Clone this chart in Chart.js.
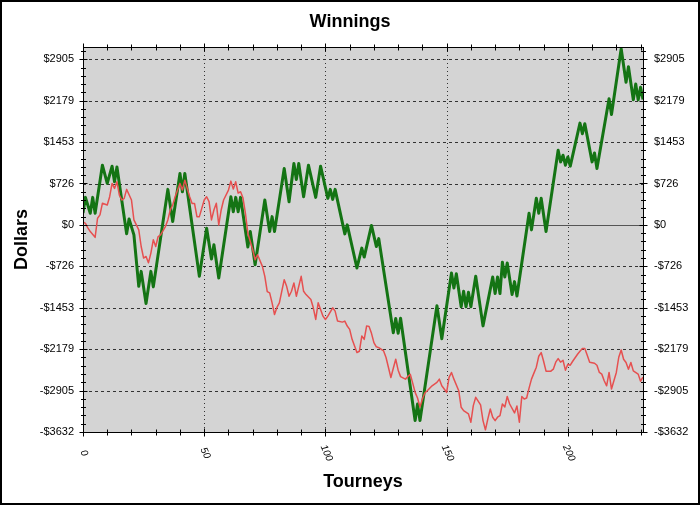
<!DOCTYPE html>
<html>
<head>
<meta charset="utf-8">
<script src="https://cdn.jsdelivr.net/npm/chart.js@4.4.0/dist/chart.umd.min.js"></script>
<style>
  body { margin: 0; background: #fff; }
  #wrap { width: 700px; height: 505px; position: relative; }
</style>
</head>
<body>
<div id="wrap"><canvas id="winChart"></canvas></div>
<script>
var yTickValues = [-3632, -2905, -2179, -1453, -726, 0, 726, 1453, 2179, 2905];
var xTickValues = [0, 50, 100, 150, 200];

// green line: turning points
var greenTourneys = [0, 1, 3, 4, 5, 8, 10, 12, 13, 14, 18, 19, 21, 23, 24, 26, 28, 29, 35, 37,
  40, 41, 42, 48, 51, 53, 54, 56, 61, 62, 63, 64, 65, 68, 69, 71, 75, 77, 78, 79,
  83, 85, 87, 88, 89, 91, 93, 96, 98, 101, 102, 103, 104, 108, 109, 113, 115, 116, 119, 121,
  122, 128, 129, 130, 131, 137, 138, 139, 146, 148, 152, 153, 154, 156, 157, 158, 159, 160, 162, 165,
  169, 170, 171, 172, 173, 174, 175, 177, 178, 179, 184, 185, 187, 188, 189, 191, 196, 197, 198, 199,
  200, 201, 205, 206, 207, 210, 211, 212, 217, 218, 222, 224, 225, 227, 228, 229, 230, 231];
var greenDollars = [209, 483, 204, 483, 204, 1047, 728, 1030, 756, 1017, -157, 105, -175, -1077, -815, -1379, -815, -1087, 623, 58,
  902, 581, 902, -902, -58, -599, -349, -930, 494, 232, 483, 232, 483, -389, -117, -698, 436, -117, 145, -117,
  989, 407, 1077, 797, 1077, 494, 1047, 483, 1030, 466, 623, 448, 623, -157, 0, -756, -407, -564, -9, -379,
  -241, -1890, -1640, -1902, -1637, -3432, -3141, -3432, -1419, -1998, -843, -1105, -855, -1436, -1164, -1436, -1181, -1436, -899, -1771,
  -913, -1204, -913, -1204, -654, -913, -668, -1222, -995, -1248, 204, -87, 466, 204, 466, -117, 1309, 1105, 1222, 1047,
  1192, 1030, 1785, 1600, 1775, 1105, 1262, 989, 2211, 1937, 3089, 2501, 2775, 2193, 2473, 2193, 2413, 2199];

// red line
var redTourneys = [0, 1, 2, 3, 5, 6, 7, 8, 10, 11, 12, 13, 14, 15, 16, 17, 18, 20, 21, 23,
  24, 25, 26, 27, 28, 29, 30, 31, 32, 34, 35, 36, 37, 38, 40, 41, 42, 43, 44, 45,
  46, 47, 48, 50, 51, 52, 53, 54, 55, 56, 57, 58, 60, 61, 62, 63, 64, 65, 66, 67,
  68, 70, 71, 72, 74, 75, 76, 77, 78, 79, 80, 81, 83, 84, 85, 86, 87, 88, 90, 91,
  92, 94, 95, 96, 97, 98, 99, 100, 101, 103, 104, 105, 107, 108, 109, 110, 111, 113, 114, 115,
  116, 117, 118, 119, 120, 121, 122, 124, 125, 126, 127, 128, 129, 130, 131, 133, 134, 135, 136, 137,
  138, 139, 140, 141, 142, 144, 145, 146, 147, 148, 149, 150, 151, 152, 153, 155, 156, 157, 159, 160,
  161, 162, 164, 165, 166, 167, 168, 169, 170, 171, 172, 173, 174, 175, 176, 178, 179, 180, 181, 182,
  183, 184, 185, 186, 187, 188, 189, 190, 191, 193, 194, 195, 196, 197, 198, 199, 200, 201, 202, 204,
  205, 206, 207, 208, 209, 211, 212, 213, 214, 215, 216, 217, 218, 220, 221, 222, 223, 224, 225, 226,
  227, 229, 230, 231];
var redDollars = [52, 26, -52, -117, -218, 117, 175, 379, 349, 494, 728, 640, 756, 523, 436, 466, 623, 436, 87, -87,
  -379, -581, -553, -663, -494, -262, -379, -204, -175, -30, 87, 262, 349, 494, 728, 611, 785, 640, 494, 377,
  377, 145, 145, 436, 494, 407, 87, 262, 379, 0, 262, 436, 611, 768, 628, 756, 558, 581, 471, 204,
  -145, -436, -611, -524, -728, -902, -1169, -1192, -1367, -1571, -1448, -1366, -960, -1077, -1251, -1164, -1017, -1251, -902, -1164,
  -1222, -1309, -1454, -1658, -1366, -1484, -1600, -1658, -1600, -1454, -1513, -1687, -1705, -1687, -1774, -1832, -2007, -2239, -2216, -1949,
  -2007, -1771, -1780, -1902, -2064, -2138, -2152, -2211, -2326, -2501, -2676, -2513, -2356, -2548, -2661, -2705, -2661, -2618, -2775, -2937,
  -3036, -3193, -3054, -2949, -2909, -2822, -2792, -2762, -2705, -2822, -2879, -2937, -2675, -2588, -2705, -2909, -3199, -3258, -3316, -3461,
  -3170, -3024, -3158, -3432, -3595, -3403, -3228, -3373, -3432, -3373, -3345, -3141, -3193, -3010, -3141, -3298, -3176, -3460, -3010, -3054,
  -3036, -2862, -2705, -2600, -2495, -2303, -2239, -2391, -2565, -2565, -2530, -2408, -2344, -2408, -2373, -2548, -2443, -2461, -2391, -2269,
  -2216, -2169, -2169, -2286, -2408, -2426, -2461, -2588, -2617, -2734, -2822, -2588, -2879, -2588, -2321, -2193, -2356, -2413, -2530, -2413,
  -2560, -2617, -2740, -2670];

const Y_MIN = -3632;
const Y_MAX = 3120;
const FONT = '"Liberation Sans", Arial, sans-serif';

function toPoints(xs, ys) {
  return xs.map((x, i) => ({ x: x, y: ys[i] }));
}

function dollarLabel(v) {
  return v < 0 ? '-$' + Math.abs(v) : '$' + v;
}

const chartDecor = {
  id: 'chartDecor',
  beforeDraw: function (chart) {
    const ctx = chart.ctx;
    const a = chart.chartArea;
    const xs = chart.scales.x;
    const ys = chart.scales.y;
    ctx.save();
    ctx.fillStyle = '#ffffff';
    ctx.fillRect(0, 0, chart.width, chart.height);
    ctx.fillStyle = '#d4d4d4';
    ctx.fillRect(a.left, a.top, a.right - a.left, a.bottom - a.top);

    ctx.strokeStyle = '#333';
    ctx.lineWidth = 1;
    ctx.setLineDash([3, 3]);
    yTickValues.forEach(v => {
      if (v === 0 || v === Y_MIN) return;
      const y = Math.round(ys.getPixelForValue(v)) + 0.5;
      ctx.beginPath();
      ctx.moveTo(a.left, y);
      ctx.lineTo(a.right, y);
      ctx.stroke();
    });
    ctx.setLineDash([1, 3]);
    xTickValues.forEach(v => {
      if (v === 0) return;
      const x = Math.round(xs.getPixelForValue(v)) + 0.5;
      ctx.beginPath();
      ctx.moveTo(x, a.top);
      ctx.lineTo(x, a.bottom);
      ctx.stroke();
    });
    ctx.setLineDash([]);
    ctx.strokeStyle = '#555';
    const y0 = Math.round(ys.getPixelForValue(0)) + 0.5;
    ctx.beginPath();
    ctx.moveTo(a.left, y0);
    ctx.lineTo(a.right, y0);
    ctx.stroke();
    ctx.restore();
  },
  afterDraw: function (chart) {
    const ctx = chart.ctx;
    const a = chart.chartArea;
    const xs = chart.scales.x;
    const ys = chart.scales.y;
    ctx.save();
    ctx.strokeStyle = '#000';
    ctx.lineWidth = 1;
    const L = Math.round(a.left) + 0.5, R = Math.round(a.right) + 0.5;
    const T = Math.round(a.top) + 0.5, B = Math.round(a.bottom) + 0.5;
    ctx.strokeRect(L, T, R - L, B - T);

    // y ticks on both sides
    const step = 726.4 / 5;
    for (let i = 0; ; i++) {
      const v = Y_MIN + i * step;
      if (v > Y_MAX) break;
      const y = Math.round(ys.getPixelForValue(v)) + 0.5;
      const len = (i % 5 === 0) ? 4 : 2.5;
      ctx.beginPath();
      ctx.moveTo(L - len, y); ctx.lineTo(L + len, y);
      ctx.moveTo(R - len, y); ctx.lineTo(R + len, y);
      ctx.stroke();
    }
    // x ticks top and bottom
    for (let v = 0; v <= 231; v += 10) {
      const x = Math.round(xs.getPixelForValue(v)) + 0.5;
      const len = (v % 50 === 0) ? 4 : 3;
      ctx.beginPath();
      ctx.moveTo(x, B - len); ctx.lineTo(x, B + len);
      ctx.moveTo(x, T - len); ctx.lineTo(x, T + len);
      ctx.stroke();
    }

    // rotated x labels
    ctx.fillStyle = '#000';
    ctx.font = 'italic 10px ' + FONT;
    ctx.textAlign = 'center';
    ctx.textBaseline = 'middle';
    xTickValues.forEach(v => {
      const x = xs.getPixelForValue(v);
      ctx.save();
      ctx.translate(x + 1, 453);
      ctx.rotate(65 * Math.PI / 180);
      ctx.fillText(String(v), 0, 0);
      ctx.restore();
    });

    // titles
    ctx.font = 'bold 18px ' + FONT;
    ctx.fillText('Winnings', 350, 22);
    ctx.fillText('Tourneys', (a.left + a.right) / 2, 482);
    ctx.save();
    ctx.translate(22, (a.top + a.bottom) / 2);
    ctx.rotate(-Math.PI / 2);
    ctx.fillText('Dollars', 0, 0);
    ctx.restore();

    // outer frame
    ctx.lineWidth = 2;
    ctx.strokeRect(1, 1, chart.width - 2, chart.height - 2);
    ctx.restore();
  }
};

function yAxis(position, width, pad) {
  return {
    type: 'linear',
    position: position,
    min: Y_MIN,
    max: Y_MAX,
    grid: { display: false },
    border: { display: false },
    afterBuildTicks: function (scale) {
      scale.ticks = yTickValues.map(v => ({ value: v }));
    },
    afterFit: function (scale) { scale.width = width; },
    ticks: {
      autoSkip: false,
      padding: pad,
      color: '#000',
      font: { family: FONT, size: 11 },
      callback: function (v) { return dollarLabel(v); }
    }
  };
}

const ctx = document.getElementById('winChart').getContext('2d');
const winChart = new Chart(ctx, {
  type: 'line',
  data: {
    datasets: [{
      label: 'Red',
      data: toPoints(redTourneys, redDollars),
      borderColor: '#e65050',
      borderWidth: 1.5,
      borderJoinStyle: 'round',
      pointRadius: 0,
      tension: 0,
      fill: false
    }, {
      label: 'Green',
      data: toPoints(greenTourneys, greenDollars),
      borderColor: '#147414',
      borderWidth: 3,
      borderJoinStyle: 'round',
      pointRadius: 0,
      tension: 0,
      fill: false
    }]
  },
  options: {
    responsive: true,
    maintainAspectRatio: false,
    animation: false,
    layout: { padding: { top: 47, bottom: 73, left: 0, right: 0 } },
    plugins: {
      legend: { display: false },
      tooltip: { enabled: false }
    },
    scales: {
      x: { type: 'linear', min: 0, max: 231, display: false },
      y: yAxis('left', 83, 1),
      y2: yAxis('right', 57, 3)
    }
  },
  plugins: [chartDecor]
});
</script>
</body>
</html>
